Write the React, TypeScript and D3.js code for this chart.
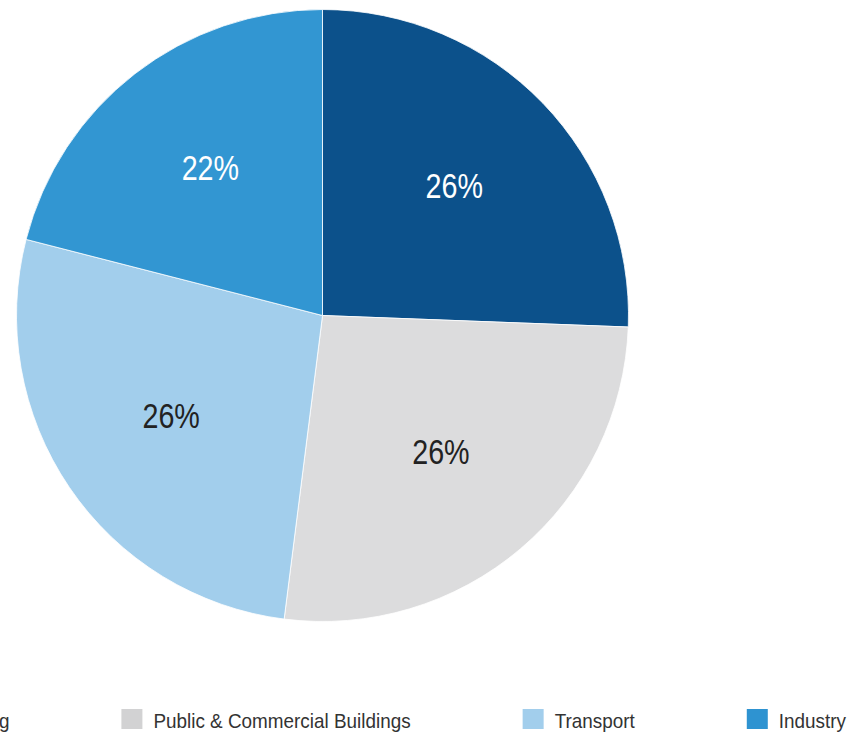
import { useEffect, useRef } from "react";
import * as d3 from "d3";

const categories = ["Housing", "Public & Commercial Buildings", "Transport", "Industry"];
const shares = [25.6, 26.4, 27.0, 21.0];
const shareLabels = ["26%", "26%", "26%", "22%"];
const colors = ["#0c518b", "#dcdcdd", "#a2ceec", "#3296d2"];
const labelColors = ["#ffffff", "#222222", "#222222", "#ffffff"];
const legendColors = ["#0c518b", "#d2d2d3", "#a2ceec", "#2e93d1"];

// no condensed face installed, so squeeze the regular one
const NARROW = 0.82;
const LEGEND_NARROW = 0.9;

const App = () => {
  const svgRef = useRef<SVGSVGElement>(null);

  useEffect(() => {
    document.body.style.margin = "0";
    if (!svgRef.current) return;
    const svg = d3.select(svgRef.current);
    svg.selectAll("*").remove();
    const width = 848;
    const height = 736;
    const cx = 322.5;
    const cy = 315.5;
    const radius = 306;
    const font = "'Liberation Sans', Arial, sans-serif";

    svg.attr("width", width).attr("height", height);

    const pie = d3
      .pie<number>()
      .sort(null)
      .value(d => d);
    const arcs = pie(shares);
    const arc = d3.arc<d3.PieArcDatum<number>>().innerRadius(0).outerRadius(radius);
    const labelArc = d3.arc<d3.PieArcDatum<number>>().innerRadius(183).outerRadius(183);

    const g = svg.append("g").attr("transform", `translate(${cx},${cy})`);
    g.selectAll(".slice")
      .data(arcs)
      .enter()
      .append("path")
      .attr("class", "slice")
      .attr("d", arc)
      .attr("fill", (_, i) => colors[i])
      .attr("stroke", "#ffffff")
      .attr("stroke-width", 0.8);

    g.selectAll(".label")
      .data(arcs)
      .enter()
      .append("text")
      .attr("class", "label")
      .attr("transform", d => `translate(${labelArc.centroid(d)}) scale(${NARROW},1)`)
      .attr("text-anchor", "middle")
      .attr("dy", "0.27em")
      .attr("font-family", font)
      .attr("font-size", 35)
      .attr("fill", (_, i) => labelColors[i])
      .text((_, i) => shareLabels[i]);

    // legend, laid out from its right end
    const legend = svg.append("g").attr("transform", "translate(0,709)");
    const items = legend
      .selectAll(".item")
      .data(categories)
      .enter()
      .append("g")
      .attr("class", "item");
    items
      .append("rect")
      .attr("width", 21)
      .attr("height", 20)
      .attr("fill", (_, i) => legendColors[i]);
    const texts = items
      .append("text")
      .attr("transform", `translate(32,19) scale(${LEGEND_NARROW},1)`)
      .attr("font-family", font)
      .attr("font-size", 21)
      .attr("fill", "#333333")
      .text(d => d);
    const widths = texts
      .nodes()
      .map(n => (n as SVGTextElement).getComputedTextLength() * LEGEND_NARROW);
    let x = 846;
    const xs: number[] = [];
    for (let i = categories.length - 1; i >= 0; i--) {
      x -= 32 + widths[i];
      xs[i] = x;
      x -= 112;
    }
    items.attr("transform", (_, i) => `translate(${xs[i]},0)`);
  }, []);

  return <svg ref={svgRef} style={{ display: "block" }} />;
};

export default App;
